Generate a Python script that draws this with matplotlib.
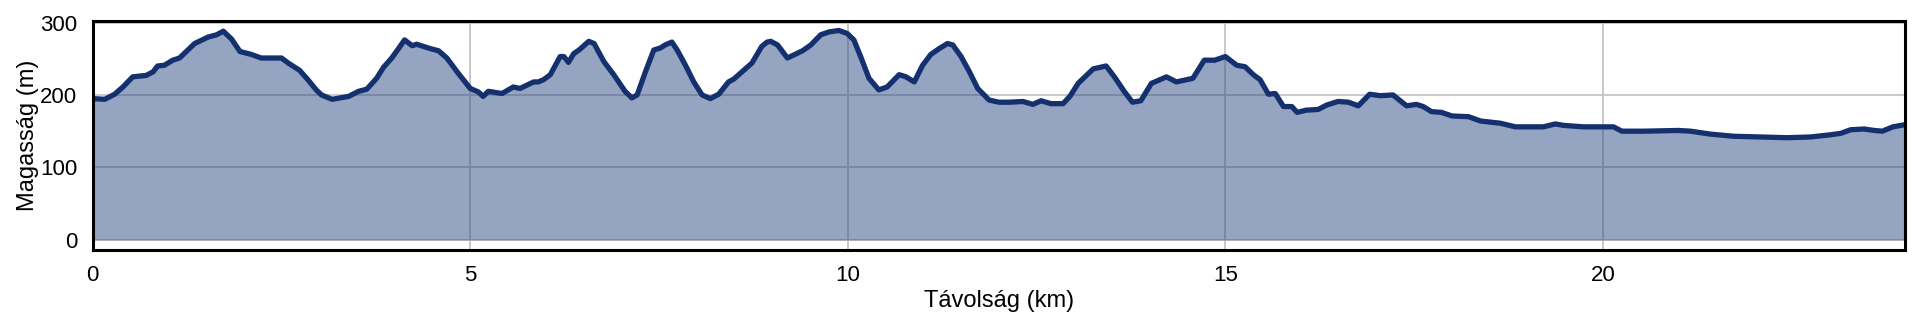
import matplotlib
matplotlib.use("Agg")
import matplotlib.pyplot as plt

distance_km = [
    0.00, 0.16, 0.29, 0.40, 0.53, 0.71, 0.80, 0.86, 0.95, 1.06, 1.15, 1.24, 1.35, 1.53,
    1.64, 1.73, 1.84, 1.95, 2.10, 2.23, 2.50, 2.59, 2.74, 2.85, 2.96, 3.03, 3.17, 3.39,
    3.52, 3.63, 3.76, 3.85, 3.96, 4.05, 4.13, 4.23, 4.29, 4.47, 4.58, 4.69, 4.84, 5.00,
    5.11, 5.17, 5.24, 5.42, 5.57, 5.66, 5.84, 5.90, 5.97, 6.06, 6.19, 6.24, 6.30, 6.37,
    6.44, 6.57, 6.64, 6.77, 6.90, 7.05, 7.14, 7.21, 7.32, 7.43, 7.52, 7.58, 7.67, 7.74,
    7.85, 7.96, 8.07, 8.18, 8.29, 8.42, 8.49, 8.60, 8.73, 8.86, 8.93, 8.98, 9.07, 9.20,
    9.40, 9.51, 9.64, 9.75, 9.88, 9.99, 10.08, 10.17, 10.28, 10.41, 10.52, 10.68, 10.77,
    10.88, 10.99, 11.10, 11.21, 11.32, 11.39, 11.50, 11.61, 11.72, 11.87, 12.00, 12.14,
    12.32, 12.45, 12.56, 12.69, 12.85, 12.94, 13.05, 13.25, 13.42, 13.53, 13.66, 13.77,
    13.88, 14.02, 14.22, 14.35, 14.57, 14.72, 14.86, 15.00, 15.15, 15.26, 15.37, 15.46,
    15.57, 15.66, 15.77, 15.88, 15.95, 16.07, 16.23, 16.34, 16.49, 16.63, 16.76, 16.91,
    17.05, 17.22, 17.40, 17.53, 17.62, 17.73, 17.86, 18.00, 18.22, 18.38, 18.64, 18.84,
    19.21, 19.37, 19.48, 19.74, 20.14, 20.25, 20.54, 21.00, 21.16, 21.42, 21.73, 22.09,
    22.44, 22.75, 23.01, 23.15, 23.28, 23.46, 23.59, 23.70, 23.84, 24.00,
]
elevation_m = [
    195, 194, 201, 211, 225, 227, 232, 240, 241, 248, 251, 260, 271, 280,
    283, 288, 277, 260, 256, 251, 251, 244, 234, 221, 207, 200, 194, 198,
    205, 208, 223, 238, 251, 264, 276, 268, 270, 264, 261, 251, 230, 209,
    204, 198, 205, 202, 211, 209, 218, 218, 221, 228, 253, 253, 245, 257,
    262, 274, 271, 246, 228, 205, 196, 200, 232, 262, 265, 269, 273, 262,
    241, 218, 200, 195, 201, 218, 222, 232, 244, 267, 273, 274, 269, 251,
    261, 269, 283, 287, 289, 285, 276, 253, 223, 207, 211, 228, 225,
    218, 241, 256, 264, 271, 269, 253, 232, 209, 193, 190, 190,
    191, 187, 192, 188, 188, 198, 216, 236, 240, 225, 205, 190,
    192, 216, 225, 218, 223, 248, 248, 253, 241, 239, 228, 221,
    201, 202, 184, 184, 176, 179, 180, 186, 191, 190, 185, 201,
    199, 200, 185, 187, 184, 177, 176, 171, 170, 164, 161, 156,
    156, 160, 158, 156, 156, 150, 150, 151, 150, 146, 143, 142,
    141, 142, 145, 147, 152, 153, 151, 150, 156, 159,
]

x_ticks = [0, 5, 10, 15, 20]
y_ticks = [0, 100, 200, 300]
x_label = "Távolság (km)"
y_label = "Magasság (m)"

plt.rcParams['font.family'] = ['Liberation Sans', 'DejaVu Sans']

W, H = 1920, 326
fig = plt.figure(figsize=(W / 100, H / 100), dpi=100)
left, right, top, bottom = 92.7, 1905, 20.7, 250
ax = fig.add_axes([left / W, 1 - bottom / H, (right - left) / W, (bottom - top) / H])

ax.set_xlim(0, 24)
ax.set_ylim(-14, 302.5)
ax.set_xticks(x_ticks)
ax.set_yticks(y_ticks)
ax.grid(True, color='#c4c4c4', linewidth=1.3, zorder=0)
ax.set_axisbelow(True)

ax.fill_between(distance_km, 0, elevation_m, color='#2b4a85', alpha=0.5, linewidth=0, zorder=2)
ax.plot(distance_km, elevation_m, color='#14306e', linewidth=3.8,
        solid_joinstyle='round', solid_capstyle='round', zorder=3, clip_on=True)

for s in ax.spines.values():
    s.set_linewidth(2.2)
    s.set_color('black')
    s.set_zorder(5)

ax.tick_params(axis='both', length=0, labelsize=16, colors='black')
ax.tick_params(axis='x', pad=10.5)
ax.tick_params(axis='y', pad=11)
ax.set_xlabel(x_label, fontsize=17, labelpad=3)
ax.set_ylabel(y_label, fontsize=17, labelpad=1)

fig.savefig("out.png", dpi=100, facecolor='white')
